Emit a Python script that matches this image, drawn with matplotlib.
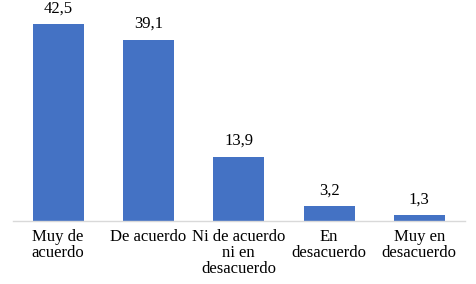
import matplotlib.pyplot as plt
import numpy as np

# Data
categories = ["Muy de\nacuerdo", "De acuerdo", "Ni de acuerdo\nni en\ndesacuerdo",
              "En\ndesacuerdo", "Muy en\ndesacuerdo"]
values = [42.5, 39.1, 13.9, 3.2, 1.3]
value_labels = ["42,5", "39,1", "13,9", "3,2", "1,3"]

plt.rcParams["font.family"] = ["Liberation Serif", "DejaVu Serif"]

fig = plt.figure(figsize=(4.76, 2.84), dpi=100)
ax = fig.add_axes([13 / 476, 63 / 284, 451.5 / 476, 208.6 / 284])

x = np.arange(len(categories))
bars = ax.bar(x, values, width=0.565, color="#4472C4")

for b, lab in zip(bars, value_labels):
    ax.annotate(lab, (b.get_x() + b.get_width() / 2, b.get_height()),
                xytext=(0, 5.5), textcoords="offset points",
                ha="center", va="bottom", fontsize=12, annotation_clip=False)

ax.set_xlim(-0.5, len(categories) - 0.5)
ax.set_ylim(0, 45)
ax.set_xticks(x)
ax.set_xticklabels(categories, fontsize=12, linespacing=1.0)
ax.tick_params(axis="x", length=0, pad=6)
ax.set_yticks([])

for side in ["top", "right", "left"]:
    ax.spines[side].set_visible(False)
ax.spines["bottom"].set_color("#D9D9D9")
ax.spines["bottom"].set_linewidth(1.0)

fig.savefig("out.png", dpi=100)
